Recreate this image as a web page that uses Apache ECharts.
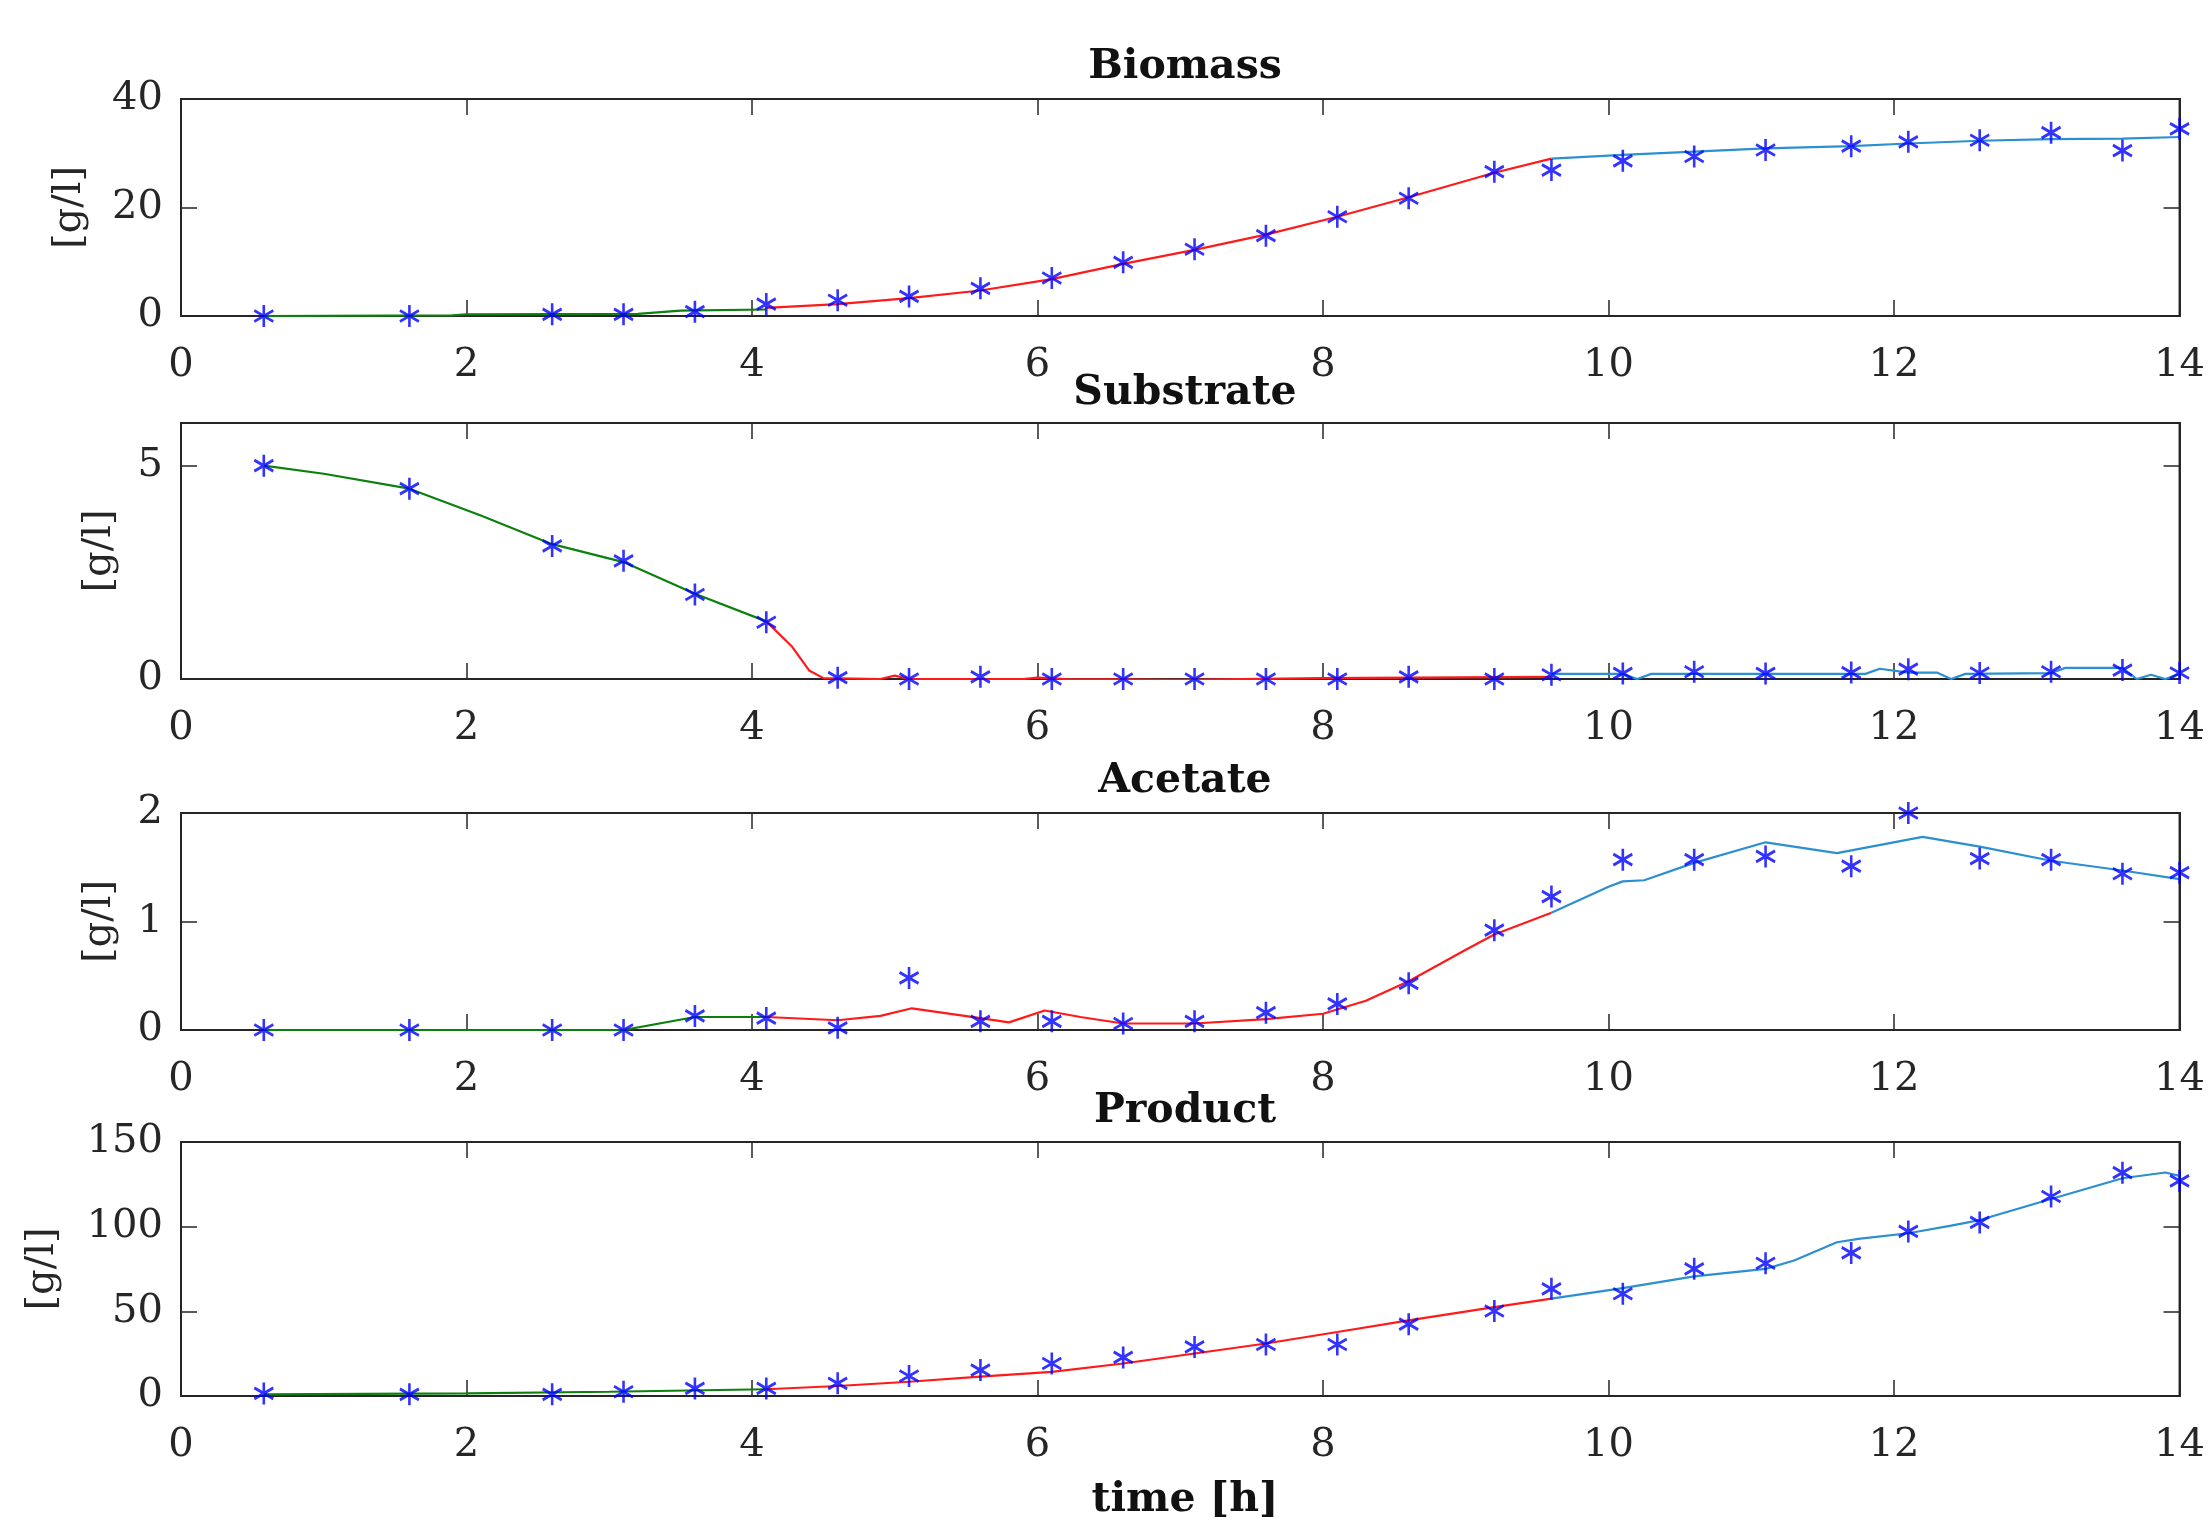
<!DOCTYPE html>
<html>
<head>
<meta charset="utf-8">
<script src="https://cdn.jsdelivr.net/npm/echarts@6/dist/echarts.min.js"></script>
<style>
html,body{margin:0;padding:0;background:#fff;}
#chart{width:2208px;height:1518px;}
</style>
</head>
<body>
<div id="chart"></div>
<script>
// ---------- DATA ----------
const panelTitles = ['Biomass', 'Substrate', 'Acetate', 'Product'];
const xLabel = 'time [h]';
const yLabel = '[g/l]';
const xTicks = [0, 2, 4, 6, 8, 10, 12, 14];
const yMax = [40, 6, 2, 150];
const yStep = [20, 5, 1, 50];

const tMeas = [0.58, 1.6, 2.6, 3.1, 3.6, 4.1, 4.6, 5.1, 5.6, 6.1, 6.6, 7.1, 7.6, 8.1, 8.6, 9.2, 9.6, 10.1, 10.6, 11.1, 11.7, 12.1, 12.6, 13.1, 13.6, 14.0];
const biomassMeas = [0, 0, 0.3, 0.3, 0.8, 2.2, 2.9, 3.6, 5.1, 7.0, 9.9, 12.3, 14.8, 18.3, 21.7, 26.6, 26.9, 28.6, 29.4, 30.6, 31.3, 32.1, 32.4, 33.8, 30.5, 34.5];
const substrateMeas = [5.0, 4.46, 3.12, 2.77, 1.98, 1.33, 0.03, 0, 0.05, 0, 0, 0, 0, 0, 0.05, 0, 0.1, 0.13, 0.17, 0.13, 0.15, 0.23, 0.14, 0.17, 0.21, 0.14];
const acetateMeas = [0, 0, 0, 0, 0.13, 0.11, 0.02, 0.48, 0.08, 0.08, 0.06, 0.08, 0.16, 0.24, 0.43, 0.92, 1.23, 1.57, 1.57, 1.6, 1.51, 2.0, 1.58, 1.57, 1.44, 1.45];
const productMeas = [1.5, 1, 1, 2.5, 4.5, 4.5, 7.5, 11.8, 15.3, 19.2, 22.8, 29, 30.4, 30.4, 42.4, 50.2, 63.3, 60.4, 75.1, 78.4, 84.5, 97.2, 102.5, 117.8, 131.9, 127];

// model phases: [time, value]
const biomassPhase1 = [[0.58, 0], [1.9, 0.1], [2.0, 0.3], [3.2, 0.4], [3.5, 1.0], [4.1, 1.2]];
const biomassPhase2 = [[4.1, 1.5], [4.6, 2.2], [5.1, 3.3], [5.6, 4.7], [6.1, 6.8], [6.6, 9.6], [7.1, 12.2], [7.6, 15.0], [8.1, 18.3], [8.6, 21.9], [9.2, 26.4], [9.6, 29.0]];
const biomassPhase3 = [[9.6, 29.0], [10.1, 29.7], [10.6, 30.3], [11.1, 30.9], [11.7, 31.3], [12.1, 31.8], [12.6, 32.3], [13.1, 32.6], [13.6, 32.7], [14, 33.0]];

const substratePhase1 = [[0.58, 5.0], [1.0, 4.81], [1.6, 4.46], [2.1, 3.83], [2.6, 3.16], [3.1, 2.74], [3.6, 2.0], [4.1, 1.35]];
const substratePhase2 = [[4.1, 1.35], [4.28, 0.76], [4.4, 0.2], [4.5, 0.02], [4.9, 0], [5.0, 0.08], [5.1, 0], [5.9, 0], [6.0, 0.03], [6.2, 0], [7.0, -0.02], [8.0, 0.02], [9.6, 0.05]];
const substratePhase3 = [[9.6, 0.12], [10.1, 0.12], [10.2, 0], [10.3, 0.12], [11.8, 0.12], [11.9, 0.24], [12.1, 0.15], [12.3, 0.15], [12.4, 0], [12.5, 0.12], [13.1, 0.14], [13.2, 0.26], [13.6, 0.26], [13.7, 0], [13.8, 0.1], [13.9, 0], [14, 0.12]];

const acetatePhase1 = [[0.58, 0], [3.1, 0], [3.6, 0.12], [4.1, 0.12]];
const acetatePhase2 = [[4.1, 0.12], [4.6, 0.09], [4.9, 0.13], [5.12, 0.2], [5.6, 0.11], [5.8, 0.07], [6.05, 0.18], [6.3, 0.12], [6.6, 0.06], [7.1, 0.06], [7.6, 0.1], [8.0, 0.15], [8.3, 0.27], [8.6, 0.45], [9.0, 0.74], [9.2, 0.88], [9.6, 1.08]];
const acetatePhase3 = [[9.6, 1.08], [10.0, 1.32], [10.1, 1.37], [10.25, 1.38], [10.6, 1.54], [11.1, 1.73], [11.6, 1.63], [12.2, 1.78], [12.6, 1.69], [13.1, 1.56], [13.6, 1.47], [14, 1.39]];

const productPhase1 = [[0.58, 1], [2.0, 1.5], [3.0, 2.5], [4.1, 4]];
const productPhase2 = [[4.1, 4], [4.6, 5.9], [5.1, 8.4], [5.6, 11.4], [6.1, 14.3], [6.6, 19.2], [7.1, 25.1], [7.6, 31], [8.1, 37.8], [8.6, 44.7], [9.2, 52.5], [9.6, 57.5]];
const productPhase3 = [[9.6, 57.5], [10.1, 63.7], [10.6, 70.6], [11.1, 75.1], [11.3, 80], [11.6, 90.8], [11.75, 92.8], [12.1, 96.1], [12.4, 100.6], [12.6, 103.9], [13.1, 116.3], [13.6, 128.6], [13.9, 132], [14, 130]];

// ---------- BUILD ----------
const meas = [biomassMeas, substrateMeas, acetateMeas, productMeas];
const phases = [
  [biomassPhase1, biomassPhase2, biomassPhase3],
  [substratePhase1, substratePhase2, substratePhase3],
  [acetatePhase1, acetatePhase2, acetatePhase3],
  [productPhase1, productPhase2, productPhase3]
];
const phaseColors = ['#0c800c', '#ff1a1a', '#2b8fd0'];

const gridTops = [99, 423, 813, 1142];
const gridHeights = [217, 256, 217, 254];
const nameGaps = [91, 61, 61, 118];
const axisColor = '#262626';
const fontFam = '"DejaVu Serif", serif';
const starPath = 'path://M0 -10 L0 10 M-8.66 -5 L8.66 5 M-8.66 5 L8.66 -5';

const grids = [], xAxes = [], yAxes = [], series = [];
for (let i = 0; i < 4; i++) {
  grids.push({
    left: 181, right: 19, top: gridTops[i], height: gridHeights[i],
    show: true, borderColor: axisColor, borderWidth: 2, backgroundColor: '#fff'
  });
  const tick = { show: true, inside: true, length: 16, lineStyle: { color: axisColor, width: 1.5 } };
  const line = { show: true, onZero: false, lineStyle: { color: axisColor, width: 2 } };
  xAxes.push({
    type: 'value', gridIndex: i, position: 'bottom', min: 0, max: 14, interval: 2,
    axisLine: line, axisTick: tick, splitLine: { show: false },
    axisLabel: { show: true, margin: 30, color: axisColor, fontSize: 40, fontFamily: fontFam }
  });
  xAxes.push({
    type: 'value', gridIndex: i, position: 'top', min: 0, max: 14, interval: 2,
    axisLine: line, axisTick: tick, splitLine: { show: false }, axisLabel: { show: false }
  });
  yAxes.push({
    type: 'value', gridIndex: i, position: 'left', min: 0, max: yMax[i], interval: yStep[i],
    axisLine: line, axisTick: tick, splitLine: { show: false },
    axisLabel: { show: true, margin: 18, color: axisColor, fontSize: 40, fontFamily: fontFam,
      formatter: v => (Math.abs(v / yStep[i] - Math.round(v / yStep[i])) < 1e-9 ? String(v) : '') },
    name: yLabel, nameLocation: 'middle', nameRotate: 90, nameGap: nameGaps[i],
    nameTextStyle: { color: axisColor, fontSize: 40, fontFamily: fontFam }
  });
  yAxes.push({
    type: 'value', gridIndex: i, position: 'right', min: 0, max: yMax[i], interval: yStep[i],
    axisLine: line, axisTick: tick, splitLine: { show: false }, axisLabel: { show: false }
  });
  for (let p = 0; p < 3; p++) {
    series.push({
      type: 'line', xAxisIndex: 2 * i, yAxisIndex: 2 * i, data: phases[i][p],
      showSymbol: false, symbol: 'none', lineStyle: { color: phaseColors[p], width: 2.2 },
      z: 3, animation: false, silent: true
    });
  }
  series.push({
    type: 'scatter', xAxisIndex: 2 * i, yAxisIndex: 2 * i,
    data: tMeas.map((t, k) => [t, meas[i][k]]),
    symbol: starPath, symbolSize: [19, 22], clip: false,
    itemStyle: { color: '#0000ff', borderColor: '#0000ff', borderWidth: 2.8 },
    z: 5, animation: false, silent: true
  });
}

const titleStyle = { fontSize: 41, fontWeight: 'bold', fontFamily: fontFam, fill: '#111', align: 'center', verticalAlign: 'middle' };
const titleY = [67, 393, 781, 1111];
const graphics = panelTitles.map((t, i) => ({
  type: 'text', x: 1185, y: titleY[i], z: 100, style: Object.assign({ text: t }, titleStyle)
}));
graphics.push({ type: 'text', x: 1185, y: 1500, z: 100, style: Object.assign({}, titleStyle, { text: xLabel }) });

const chart = echarts.init(document.getElementById('chart'), null, { renderer: 'canvas' });
chart.setOption({
  backgroundColor: '#fff',
  animation: false,
  grid: grids,
  xAxis: xAxes,
  yAxis: yAxes,
  series: series,
  graphic: graphics
});
</script>
</body>
</html>
